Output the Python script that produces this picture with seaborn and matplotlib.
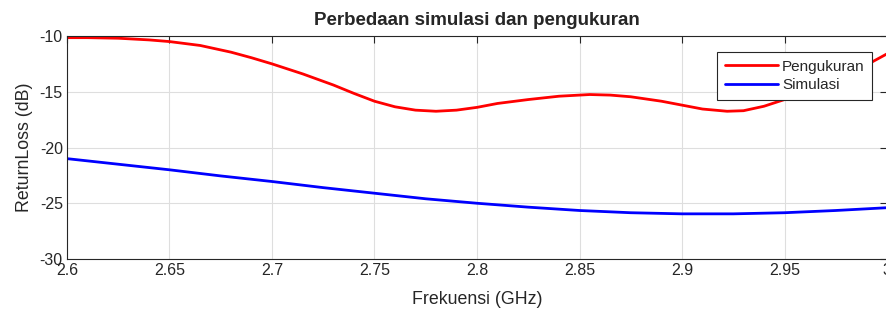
import matplotlib
matplotlib.use('Agg')
import matplotlib.pyplot as plt
import seaborn as sns
import pandas as pd

# values
freq_meas = [2.60, 2.61, 2.625, 2.64, 2.65, 2.665, 2.68, 2.69, 2.70, 2.715, 2.73, 2.74,
             2.75, 2.76, 2.77, 2.78, 2.79, 2.80, 2.81, 2.825, 2.84, 2.855, 2.865, 2.875,
             2.89, 2.90, 2.91, 2.922, 2.93, 2.94, 2.95, 2.96, 2.97, 2.98, 2.99, 3.00]
rl_meas = [-10.15, -10.15, -10.2, -10.35, -10.5, -10.85, -11.45, -11.95, -12.5, -13.4, -14.4, -15.15,
           -15.85, -16.35, -16.65, -16.75, -16.65, -16.4, -16.05, -15.7, -15.4, -15.25, -15.3, -15.45,
           -15.85, -16.2, -16.55, -16.75, -16.7, -16.3, -15.7, -15.0, -14.2, -13.4, -12.6, -11.6]

freq_sim = [2.60, 2.625, 2.65, 2.675, 2.70, 2.725, 2.75, 2.775, 2.80,
            2.825, 2.85, 2.875, 2.90, 2.925, 2.95, 2.975, 3.00]
rl_sim = [-21.0, -21.5, -22.0, -22.55, -23.05, -23.6, -24.1, -24.6, -25.0,
          -25.35, -25.65, -25.85, -25.95, -25.95, -25.85, -25.65, -25.4]

xticks = [2.6, 2.65, 2.7, 2.75, 2.8, 2.85, 2.9, 2.95, 3]
xtick_labels = ['2.6', '2.65', '2.7', '2.75', '2.8', '2.85', '2.9', '2.95', '3']
yticks = [-30, -25, -20, -15, -10]

df = pd.concat([
    pd.DataFrame({'f': freq_meas, 'rl': rl_meas, 'seri': 'Pengukuran'}),
    pd.DataFrame({'f': freq_sim, 'rl': rl_sim, 'seri': 'Simulasi'}),
])

sns.set_style('white')
plt.rcParams['font.family'] = ['Liberation Sans', 'DejaVu Sans']
plt.rcParams['axes.unicode_minus'] = False

fig = plt.figure(figsize=(8.86, 3.13), dpi=100)
ax = fig.add_axes([67 / 886, 1 - 259 / 313, 820 / 886, 223 / 313])

sns.lineplot(data=df, x='f', y='rl', hue='seri', palette={'Pengukuran': '#ff0000', 'Simulasi': '#0000ff'},
             linewidth=2.0, ax=ax)

ax.set_xlim(2.6, 3.0)
ax.set_ylim(-30, -10)
ax.set_xticks(xticks)
ax.set_xticklabels(xtick_labels)
ax.set_yticks(yticks)
ax.grid(True, color='#dedede', linewidth=0.8)
ax.tick_params(direction='in', length=5, width=0.8, colors='#262626', labelsize=11.5,
               top=True, right=True, labelcolor='#262626', pad=3)
for s in ax.spines.values():
    s.set_color('#262626')
    s.set_linewidth(0.8)

ax.set_xlabel('Frekuensi (GHz)', fontsize=12.8, color='#262626', labelpad=9)
ax.set_ylabel('ReturnLoss (dB)', fontsize=12.8, color='#262626', labelpad=5)
ax.set_title('Perbedaan simulasi dan pengukuran', fontsize=13.5, fontweight='bold', pad=8)

leg = ax.legend(loc='upper right', bbox_to_anchor=(0.982, 0.928), borderaxespad=0,
                fontsize=11, frameon=True, fancybox=False, framealpha=1, handlelength=3.5,
                borderpad=0.5, labelspacing=0.3, handletextpad=0.25)
leg.get_frame().set_edgecolor('#262626')
leg.get_frame().set_linewidth(0.8)

fig.savefig('out.png', dpi=100)
